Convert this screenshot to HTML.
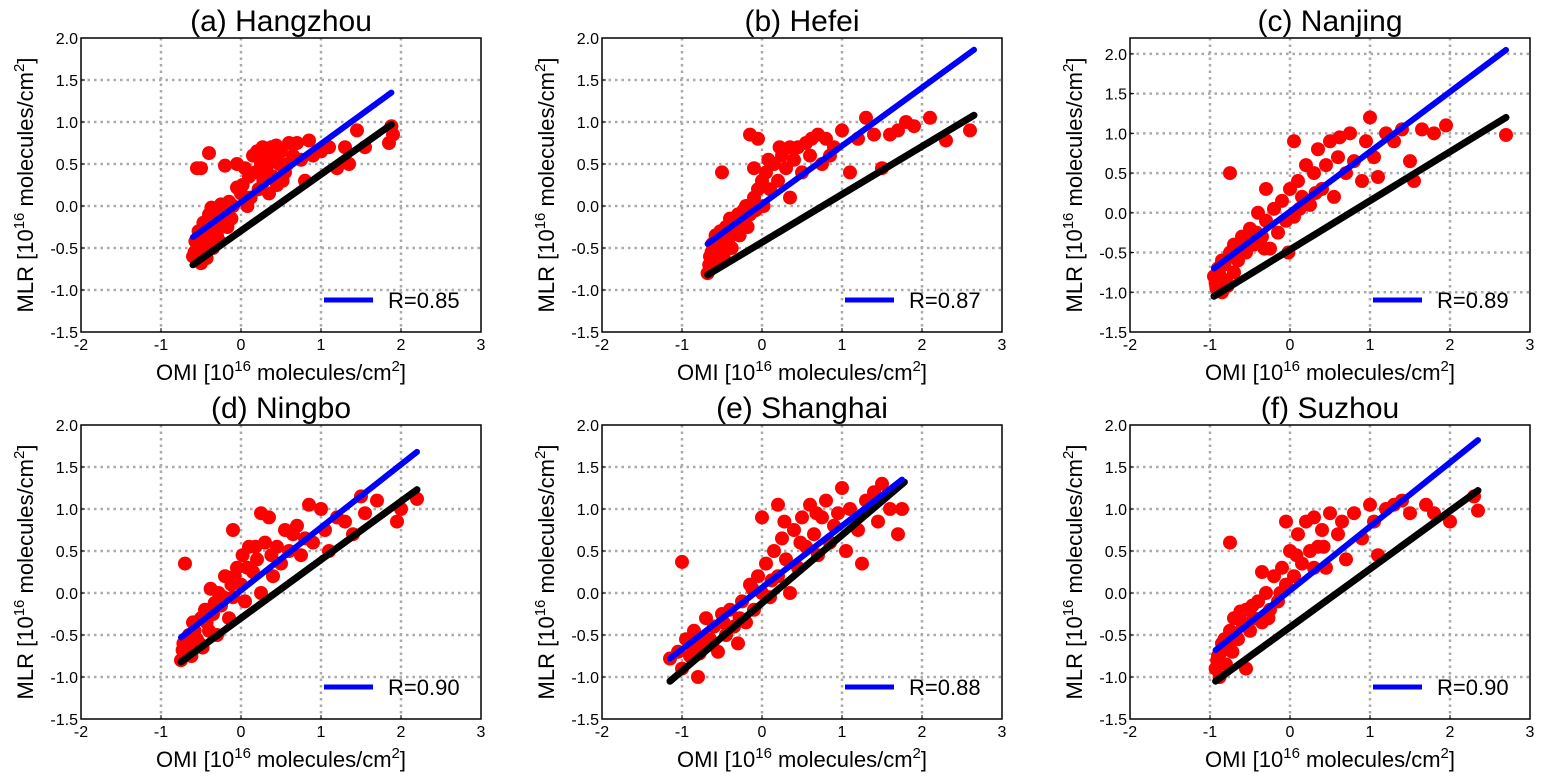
<!DOCTYPE html>
<html><head><meta charset="utf-8"><style>
body{margin:0;background:#fff;}
svg{display:block;font-family:"Liberation Sans",Arial,sans-serif;}
</style></head><body>
<svg id="chart" width="1553" height="779"></svg>
<script>
const panelTitles=["(a) Hangzhou","(b) Hefei","(c) Nanjing","(d) Ningbo","(e) Shanghai","(f) Suzhou"];
const rValues=["R=0.85","R=0.87","R=0.89","R=0.90","R=0.88","R=0.90"];
const xTicks=[-2,-1,0,1,2,3];
const yTicks=[-1.5,-1.0,-0.5,0.0,0.5,1.0,1.5,2.0];
const yMaxes=[2.0,2.0,2.2,2.0,2.0,2.0];
const blueLines=[[-0.6,-0.37,1.88,1.35],[-0.68,-0.45,2.65,1.86],[-0.95,-0.7,2.7,2.05],[-0.75,-0.53,2.2,1.68],[-1.15,-0.78,1.75,1.35],[-0.93,-0.68,2.35,1.82]];
const blackLines=[[-0.6,-0.7,1.88,0.97],[-0.68,-0.82,2.65,1.08],[-0.95,-1.05,2.7,1.2],[-0.75,-0.82,2.2,1.23],[-1.15,-1.05,1.78,1.32],[-0.93,-1.05,2.35,1.22]];
const pointsA=[[-0.6,-0.6],[-0.58,-0.55],[-0.55,-0.65],[-0.52,-0.5],[-0.5,-0.68],[-0.5,-0.45],[-0.48,-0.35],[-0.45,-0.55],[-0.45,-0.25],[-0.42,-0.4],[-0.4,-0.1],[-0.38,-0.3],[-0.35,-0.5],[-0.35,-0.15],[-0.3,-0.05],[-0.3,-0.35],[-0.25,0.02],[-0.22,-0.2],[-0.2,-0.1],[-0.15,0.05],[-0.12,-0.15],[-0.1,0.0],[-0.05,0.22],[0,0.15],[0.02,0.25],[0.05,0.45],[0.08,0.0],[0.1,0.35],[0.15,0.6],[0.18,0.4],[0.2,0.65],[0.22,0.2],[0.25,0.5],[0.28,0.3],[0.3,0.65],[0.32,0.45],[0.35,0.55],[0.38,0.7],[0.4,0.35],[0.42,0.6],[0.45,0.25],[0.48,0.5],[0.5,0.65],[0.55,0.4],[0.6,0.75],[0.65,0.6],[0.7,0.75],[0.75,0.55],[0.8,0.3],[0.85,0.78],[0.9,0.6],[1.0,0.65],[1.1,0.7],[1.2,0.45],[1.3,0.7],[1.35,0.5],[1.45,0.9],[1.55,0.7],[1.85,0.75],[1.9,0.85],[1.88,0.95],[-0.55,0.45],[-0.4,0.63],[-0.5,0.45],[-0.2,0.48],[-0.05,0.5],[0.35,0.15],[-0.57,-0.42],[-0.53,-0.3],[-0.47,-0.2],[-0.43,-0.62],[-0.37,-0.02],[-0.33,-0.25],[-0.27,-0.42],[-0.17,-0.25],[0.12,0.1],[0.27,0.7],[0.37,0.35],[0.44,0.72],[0.52,0.3],[0.58,0.5]];
const pointsB=[[-0.68,-0.8],[-0.65,-0.6],[-0.62,-0.45],[-0.6,-0.7],[-0.58,-0.35],[-0.55,-0.55],[-0.52,-0.3],[-0.5,-0.45],[-0.48,-0.6],[-0.45,-0.25],[-0.42,-0.4],[-0.4,-0.15],[-0.38,-0.5],[-0.35,-0.3],[-0.3,-0.1],[-0.28,-0.35],[-0.25,-0.2],[-0.2,0.0],[-0.18,-0.25],[-0.15,-0.1],[-0.1,0.1],[-0.08,-0.05],[-0.05,0.2],[0,0.3],[0.02,0.0],[0.05,0.4],[0.1,0.2],[0.15,0.5],[0.2,0.3],[0.25,0.6],[0.3,0.45],[0.35,0.1],[0.4,0.55],[0.45,0.7],[0.5,0.4],[0.55,0.75],[0.6,0.6],[0.7,0.85],[0.75,0.5],[0.8,0.8],[0.9,0.7],[1.0,0.9],[1.1,0.4],[1.2,0.8],[1.3,1.05],[1.4,0.85],[1.5,0.45],[1.6,0.85],[1.7,0.9],[1.8,1.0],[1.9,0.95],[2.1,1.05],[2.3,0.78],[2.6,0.9],[-0.5,0.4],[-0.15,0.85],[-0.05,0.8],[-0.1,0.45],[0.35,0.7],[-0.66,-0.7],[-0.63,-0.55],[-0.57,-0.62],[-0.53,-0.42],[-0.46,-0.35],[-0.33,-0.18],[-0.23,-0.05],[0.08,0.55],[0.22,0.7],[0.62,0.8],[0.85,0.6]];
const pointsC=[[-0.95,-0.8],[-0.92,-0.95],[-0.9,-0.7],[-0.85,-1.0],[-0.85,-0.6],[-0.8,-0.85],[-0.75,-0.5],[-0.7,-0.75],[-0.7,-0.4],[-0.65,-0.6],[-0.6,-0.3],[-0.55,-0.5],[-0.5,-0.2],[-0.45,-0.4],[-0.4,0.0],[-0.35,-0.3],[-0.3,-0.1],[-0.25,-0.45],[-0.2,0.05],[-0.15,-0.25],[-0.1,0.15],[-0.05,-0.1],[0,0.3],[0.05,-0.05],[0.1,0.4],[0.15,0.2],[0.2,0.6],[0.25,0.1],[0.3,0.5],[0.35,0.8],[0.4,0.3],[0.45,0.6],[0.5,0.9],[0.55,0.2],[0.6,0.7],[0.7,0.5],[0.75,1.0],[0.8,0.65],[0.9,0.4],[0.95,0.9],[1.0,1.2],[1.05,0.7],[1.1,0.45],[1.2,1.0],[1.3,0.9],[1.4,1.05],[1.5,0.65],[1.55,0.4],[1.65,1.05],[1.8,1.0],[1.95,1.1],[2.7,0.98],[-0.75,0.5],[-0.3,0.3],[-0.02,-0.5],[0.05,0.9],[-0.93,-0.88],[-0.88,-0.78],[-0.82,-0.65],[-0.78,-0.92],[-0.72,-0.55],[-0.62,-0.45],[-0.52,-0.35],[-0.42,-0.25],[-0.32,-0.45],[0.12,0.05],[0.32,0.25],[0.62,0.95]];
const pointsD=[[-0.75,-0.8],[-0.72,-0.6],[-0.7,-0.7],[-0.65,-0.5],[-0.62,-0.75],[-0.6,-0.35],[-0.55,-0.55],[-0.5,-0.3],[-0.48,-0.65],[-0.45,-0.2],[-0.4,-0.45],[-0.38,0.05],[-0.35,-0.25],[-0.3,-0.5],[-0.28,0.0],[-0.25,-0.15],[-0.2,0.2],[-0.15,-0.3],[-0.12,0.1],[-0.1,-0.05],[-0.05,0.3],[0,0.1],[0.02,0.45],[0.05,-0.1],[0.1,0.55],[0.15,0.25],[0.2,0.4],[0.25,0.0],[0.3,0.6],[0.35,0.9],[0.4,0.2],[0.45,0.55],[0.5,0.35],[0.55,0.75],[0.6,0.5],[0.7,0.8],[0.75,0.45],[0.8,0.65],[0.85,1.05],[0.9,0.6],[1.0,1.0],[1.05,0.75],[1.1,0.5],[1.2,0.9],[1.3,0.85],[1.4,0.7],[1.5,1.15],[1.55,0.95],[1.7,1.1],[1.95,0.85],[2.0,1.0],[2.2,1.12],[-0.7,0.35],[-0.1,0.75],[0.25,0.95],[-0.73,-0.68],[-0.67,-0.62],[-0.58,-0.45],[-0.52,-0.6],[-0.43,-0.35],[-0.33,-0.12],[-0.22,-0.05],[-0.08,0.2],[0.08,0.3],[0.18,0.55],[0.38,0.45],[0.65,0.7]];
const pointsE=[[-1.15,-0.78],[-1.05,-0.7],[-1.0,-0.9],[-0.95,-0.55],[-0.9,-0.75],[-0.85,-0.45],[-0.8,-1.0],[-0.75,-0.6],[-0.7,-0.3],[-0.65,-0.55],[-0.6,-0.4],[-0.55,-0.7],[-0.5,-0.25],[-0.45,-0.5],[-0.4,-0.2],[-0.35,-0.4],[-0.3,-0.6],[-0.25,-0.1],[-0.2,-0.35],[-0.15,0.1],[-0.1,-0.2],[-0.05,0.2],[0,0.0],[0.05,0.35],[0.1,-0.05],[0.15,0.5],[0.2,0.2],[0.25,0.65],[0.3,0.4],[0.35,0.0],[0.4,0.75],[0.45,0.3],[0.5,0.9],[0.55,0.55],[0.6,1.05],[0.65,0.7],[0.7,0.45],[0.75,0.9],[0.8,1.1],[0.85,0.6],[0.9,0.8],[1.0,1.25],[1.05,0.5],[1.1,1.0],[1.2,0.75],[1.25,0.35],[1.3,1.1],[1.4,1.2],[1.45,0.85],[1.5,1.3],[1.6,1.0],[1.7,0.7],[1.75,1.0],[-1.0,0.37],[0.0,0.9],[0.2,1.05],[-0.88,-0.62],[-0.78,-0.72],[-0.62,-0.62],[-0.48,-0.35],[-0.28,-0.3],[-0.12,0.05],[0.12,0.15],[0.28,0.85],[0.48,0.6],[0.68,0.95],[0.95,0.95]];
const pointsF=[[-0.93,-0.9],[-0.9,-0.75],[-0.88,-1.0],[-0.85,-0.6],[-0.8,-0.85],[-0.75,-0.45],[-0.72,-0.7],[-0.7,-0.3],[-0.65,-0.55],[-0.6,-0.35],[-0.55,-0.9],[-0.55,-0.2],[-0.5,-0.45],[-0.45,-0.3],[-0.4,-0.1],[-0.35,-0.35],[-0.3,0.0],[-0.25,-0.2],[-0.2,0.2],[-0.15,-0.1],[-0.1,0.3],[-0.05,0.1],[0,0.5],[0.05,0.2],[0.1,0.7],[0.15,0.35],[0.2,0.85],[0.25,0.5],[0.3,0.9],[0.35,0.55],[0.4,0.75],[0.45,0.3],[0.5,0.95],[0.6,0.7],[0.7,0.4],[0.8,0.95],[0.9,0.65],[1.0,1.05],[1.05,0.85],[1.1,0.45],[1.2,1.0],[1.3,1.05],[1.4,1.1],[1.5,0.95],[1.7,1.05],[1.8,0.95],[2.0,0.85],[2.3,1.15],[2.35,0.98],[-0.75,0.6],[-0.05,0.85],[-0.35,0.25],[0.3,0.3],[-0.91,-0.8],[-0.86,-0.7],[-0.82,-0.55],[-0.77,-0.62],[-0.68,-0.48],[-0.62,-0.22],[-0.47,-0.15],[-0.27,-0.3],[-0.12,0.0],[0.08,0.45],[0.42,0.55],[0.65,0.85]];
const allPoints=[pointsA,pointsB,pointsC,pointsD,pointsE,pointsF];

const NS="http://www.w3.org/2000/svg";
const svg=document.getElementById('chart');
function mk(tag,attrs,parent){const e=document.createElementNS(NS,tag);for(const k in attrs)e.setAttribute(k,attrs[k]);parent.appendChild(e);return e;}
const lefts=[81,602,1130];const tops=[38,425];const W=400,H=294;
for(let p=0;p<6;p++){
  const L=lefts[p%3],T=tops[Math.floor(p/3)];
  const yMin=-1.5,yMax=yMaxes[p];
  const sx=v=>L+(v+2)/5*W;
  const sy=v=>T+H-(v-yMin)/(yMax-yMin)*H;
  const g=mk('g',{},svg);
  
  
  const t=mk('text',{x:L+W/2,y:T-7,'text-anchor':'middle','font-size':30,fill:'#000'},g);
  t.textContent=panelTitles[p];
  
  
  xTicks.forEach(v=>{
    if(v>-2&&v<3){const l=mk('line',{x1:sx(v),x2:sx(v),y1:T,y2:T+H,stroke:'#aaa','stroke-width':2.5,'stroke-dasharray':'2.5,4'},g);
    }
    const tx=mk('text',{x:sx(v),y:T+H+18,'text-anchor':'middle','font-size':16,fill:'#000'},g);
    tx.textContent=String(v);
    
    mk('line',{x1:sx(v),x2:sx(v),y1:T+H,y2:T+H-4,stroke:'#000'},g);
  });
  yTicks.forEach(v=>{
    const y=sy(v);
    if(v>yMin&&v<yMax){const l=mk('line',{x1:L,x2:L+W,y1:y,y2:y,stroke:'#aaa','stroke-width':2.5,'stroke-dasharray':'2.5,4'},g);
    }
    const ty=mk('text',{x:L-3,y:y+6,'text-anchor':'end','font-size':16,fill:'#000'},g);
    ty.textContent=v.toFixed(1);
    
    mk('line',{x1:L,x2:L+4,y1:y,y2:y,stroke:'#000'},g);
  });
  allPoints[p].forEach(pt=>{
    const c=mk('circle',{cx:sx(pt[0]),cy:sy(pt[1]),r:7,fill:'#ff0000'},g);
    
    
  });
  const bk=blackLines[p];
  const kl=mk('line',{x1:sx(bk[0]),y1:sy(bk[1]),x2:sx(bk[2]),y2:sy(bk[3]),stroke:'#000','stroke-width':7,'stroke-linecap':'round'},g);
  
  const bl=blueLines[p];
  const bline=mk('line',{x1:sx(bl[0]),y1:sy(bl[1]),x2:sx(bl[2]),y2:sy(bl[3]),stroke:'#0000ff','stroke-width':6,'stroke-linecap':'round'},g);
  
  const fr=mk('rect',{x:L,y:T,width:W,height:H,fill:'none',stroke:'#000','stroke-width':1.5},g);
  
  const lg=mk('line',{x1:L+243,x2:L+292,y1:T+262,y2:T+262,stroke:'#0000ff','stroke-width':5},g);
  
  const lt=mk('text',{x:L+307,y:T+270,'font-size':22,fill:'#000'},g);
  lt.textContent=rValues[p];
  
  const xt=mk('text',{x:L+W/2,y:T+H+48,'text-anchor':'middle','font-size':22,fill:'#000'},g);
  xt.innerHTML='OMI [10<tspan dy="-9" font-size="15">16</tspan><tspan dy="9"> molecules/cm</tspan><tspan dy="-9" font-size="15">2</tspan><tspan dy="9">]</tspan>';
  
  const yt=mk('text',{x:0,y:0,'text-anchor':'middle','font-size':22,fill:'#000',transform:`translate(${L-48},${T+H/2}) rotate(-90)`},g);
  yt.innerHTML='MLR [10<tspan dy="-9" font-size="15">16</tspan><tspan dy="9"> molecules/cm</tspan><tspan dy="-9" font-size="15">2</tspan><tspan dy="9">]</tspan>';
  
}
</script>
</body></html>
